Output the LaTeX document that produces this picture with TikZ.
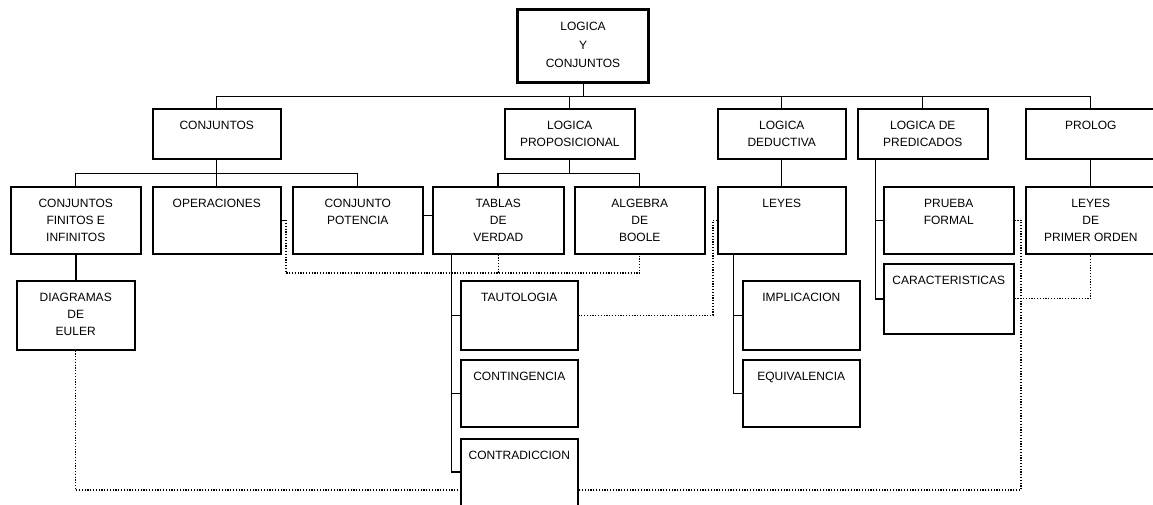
\documentclass[tikz,border=0pt]{standalone}
\usepackage{fontspec}
\setmainfont{Liberation Sans}
\newcommand\bt[3]{\parbox[c][#2pt][t]{#1pt}{\centering\rule{0pt}{21pt}#3}}
\begin{document}
\begin{tikzpicture}[x=1pt,y=-1pt,
  box/.style={draw, line width=1.5pt, inner sep=0pt, anchor=north west,
    font=\fontsize{12}{17}\selectfont},
  topbox/.style={box, line width=3pt, font=\fontsize{12}{18.5}\selectfont},
  conn/.style={line width=1pt},
  thickconn/.style={line width=2pt},
  dotln/.style={line width=1.3pt, dash pattern=on 1.2pt off 1.6pt}]
\useasboundingbox (0,0) rectangle (1153,504);
% boxes
\node[topbox] (top) at (516,8) {\bt{131}{73}{LOGICA\\Y\\CONJUNTOS}};
\node[box] (conj) at (152,108) {\bt{128}{50}{CONJUNTOS}};
\node[box] (lprop) at (504,108) {\bt{130}{50}{LOGICA\\PROPOSICIONAL}};
\node[box] (lded) at (717,108) {\bt{128}{50}{LOGICA\\DEDUCTIVA}};
\node[box] (lpred) at (857,108) {\bt{130}{50}{LOGICA DE\\PREDICADOS}};
\node[box] (prolog) at (1025,108) {\bt{130}{50}{PROLOG}};
\node[box] (cfin) at (10,186) {\bt{130}{67}{CONJUNTOS\\FINITOS E\\INFINITOS}};
\node[box] (oper) at (152,186) {\bt{128}{67}{OPERACIONES}};
\node[box] (cpot) at (292,186) {\bt{130}{67}{CONJUNTO\\POTENCIA}};
\node[box] (tablas) at (432,186) {\bt{131}{67}{TABLAS\\DE\\VERDAD}};
\node[box] (algebra) at (574,186) {\bt{130}{67}{ALGEBRA\\DE\\BOOLE}};
\node[box] (leyes) at (717,186) {\bt{128}{67}{LEYES}};
\node[box] (prueba) at (883,186) {\bt{130}{67}{PRUEBA\\FORMAL}};
\node[box] (primer) at (1025,186) {\bt{130}{67}{LEYES\\DE\\PRIMER ORDEN}};
\node[box] (euler) at (16,280) {\bt{118}{69}{DIAGRAMAS\\DE\\EULER}};
\node[box] (caract) at (883,263) {\bt{130}{70}{CARACTERISTICAS}};
\node[box] (tauto) at (460,280) {\bt{117}{69}{TAUTOLOGIA}};
\node[box] (conting) at (460,359) {\bt{117}{67}{CONTINGENCIA}};
\node[box] (contra) at (460,438) {\bt{117}{67}{CONTRADICCION}};
\node[box] (impl) at (742,280) {\bt{117}{69}{IMPLICACION}};
\node[box] (equiv) at (742,359) {\bt{117}{67}{EQUIVALENCIA}};
% helper coordinates
\coordinate (bus) at (0,96);
\coordinate (cbus) at (0,173);
\coordinate (pv) at (875,0);
\coordinate (tv) at (451,0);
\coordinate (lv) at (733,0);
\coordinate (d1) at (286,273);
\coordinate (d2) at (713,0);
\coordinate (d3) at (1021,490);
% tree connectors
\draw[conn] (top.south) -- (top.south |- bus);
\draw[conn] (conj.north |- bus) -- (prolog.north |- bus);
\foreach \n in {conj,lprop,lded,lpred,prolog}
  \draw[conn] (\n.north) -- (\n.north |- bus);
\draw[conn] (conj.south) -- (conj.south |- cbus);
\draw[conn] (cfin.north |- cbus) -- (cpot.north |- cbus);
\foreach \n in {cfin,oper,cpot}
  \draw[conn] (\n.north) -- (\n.north |- cbus);
\draw[conn] (lprop.south) -- (lprop.south |- cbus);
\draw[conn] (tablas.north |- cbus) -- (algebra.north |- cbus);
\draw[thickconn] (tablas.north) -- (tablas.north |- cbus);
\draw[conn] (algebra.north) -- (algebra.north |- cbus);
\draw[conn] (lded.south) -- (leyes.north);
\draw[conn] (prolog.south) -- (primer.north);
\draw[conn] (pv |- lpred.south) -- (pv |- caract.west);
\draw[thickconn] (pv |- caract.west) -- (caract.west);
\draw[conn] (pv |- prueba.west) -- (prueba.west);
\draw[thickconn] (cfin.south) -- (euler.north);
\draw[conn] (tv |- tablas.south) -- (tv |- contra.west);
\draw[thickconn] (tv |- contra.west) -- (contra.west);
\draw[conn] (tv |- tauto.west) -- (tauto.west);
\draw[conn] (tv |- conting.west) -- (conting.west);
\draw[conn] (lv |- leyes.south) -- (lv |- equiv.west) -- (equiv.west);
\draw[conn] (lv |- impl.west) -- (impl.west);
\draw[conn] ([yshift=4.5pt]cpot.east) -- ([yshift=4.5pt]tablas.west);
% dotted connectors
\draw[conn] (oper.east) -- (oper.east -| d1);
\draw[dotln] (oper.east -| d1) -- (d1) -| (algebra.south);
\draw[dotln] (tablas.south) -- (tablas.south |- d1);
\draw[dotln] (leyes.west) -- (leyes.west -| d2) -- (d2 |- tauto.east) -- (tauto.east);
\draw[dotln] (prueba.east) -- (prueba.east -| d3) -- (d3) -- (contra.east |- d3);
\draw[dotln] (caract.east) -| (primer.south);
\draw[dotln] (euler.south) -- (euler.south |- d3) -- (contra.west |- d3);
\end{tikzpicture}
\end{document}
